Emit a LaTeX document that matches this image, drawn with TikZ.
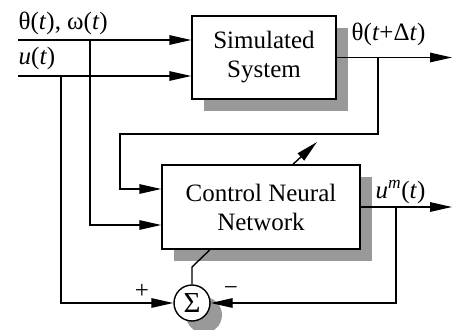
\documentclass[tikz,border=0pt]{standalone}
\usepackage{fontspec}
\setmainfont{Liberation Serif}
\usetikzlibrary{arrows.meta,shadows}
\definecolor{shadowgray}{RGB}{153,153,153}
\begin{document}
\begin{tikzpicture}[x=1pt,y=-1pt, line width=1.4pt,
  font=\fontsize{25}{29}\selectfont,
  grayshadow/.style={general shadow={fill=shadowgray, draw=none, shadow xshift=12pt, shadow yshift=-12pt}},
  blockbox/.style={draw, fill=white, align=center, inner sep=0pt, grayshadow},
  sumnode/.style={circle, draw, fill=white, minimum size=36pt, inner sep=0pt, grayshadow, font=\fontsize{29}{29}\selectfont},
  conn/.style={-{Triangle[length=22pt,width=9.5pt]}},
  lbl/.style={anchor=base west, inner sep=0pt}]
\useasboundingbox (0,0) rectangle (452,329);

% blocks
\node[blockbox, minimum width=144pt, minimum height=83pt] (ss) at (264,57.5) {Simulated\\System};
\node[blockbox, minimum width=198pt, minimum height=84pt] (cnn) at (261,207) {Control Neural\\Network};
\node[sumnode] (sum) at (192,303) {Σ};

% coordinates
\coordinate (inT) at (18,40);
\coordinate (inU) at (18,76);
\coordinate (bT) at (90,40);
\coordinate (bU) at (61,76);
\coordinate (outT) at (452,57.5);
\coordinate (bO) at (378,57.5);
\coordinate (fb) at (120,134);
\coordinate (outM) at (452,207);
\coordinate (bM) at (396,207);
\coordinate (kink) at (192,267);
\coordinate (adapt) at (317,142);

% inputs
\draw[conn] (inT) -- (inT -| ss.west);
\draw[conn] (inU) -- (inU -| ss.west);
\draw[conn] (bT) |- ([yshift=-18pt]cnn.west);
\draw[conn] (bU) |- (sum.west);

% outputs
\draw[conn] (ss.east) -- (outT);
\draw[conn] (bO) |- (fb) |- ([yshift=18pt]cnn.west);
\draw[conn] (cnn.east) -- (outM);
\draw[conn] (bM) |- (sum.east);

% CNN to sum
\draw ([xshift=-51pt]cnn.south) -- (kink) -- (sum.north);

% adaptation arrow
\draw[conn] ([xshift=32pt]cnn.north) -- (adapt);

% labels
\node[lbl] (lT) at (18,30) {θ(\textit{t}), ω(\textit{t})};
\node[lbl] (lU) at (18,64) {\textit{u}(\textit{t})};
\node[lbl] (lO) at (351,41) {θ(\textit{t}+Δ\textit{t})};
\node[lbl] (lM) at (375,198) {\textit{u}\textsuperscript{\textit{m}}(\textit{t})};
\node (plus) at (142,291) {+};
\node (minus) at (231,291) {−};
\end{tikzpicture}
\end{document}
